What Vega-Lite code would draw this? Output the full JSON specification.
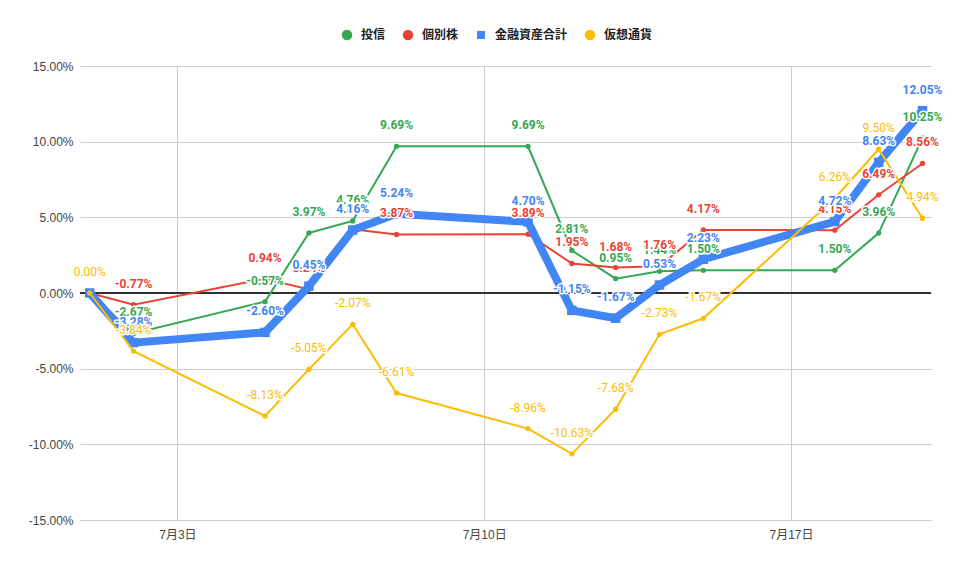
{
  "$schema": "https://vega.github.io/schema/vega-lite/v6.json",
  "autosize": "none",
  "width": 851,
  "height": 454,
  "padding": {"left": 80, "top": 66, "right": 29, "bottom": 49},
  "background": "white",
  "data": {
    "values": [
      {"s": "投信", "d": "2021/07/01", "v": 0},
      {"s": "投信", "d": "2021/07/02", "v": -0.0267},
      {"s": "投信", "d": "2021/07/05", "v": -0.0057},
      {"s": "投信", "d": "2021/07/06", "v": 0.0397},
      {"s": "投信", "d": "2021/07/07", "v": 0.0476},
      {"s": "投信", "d": "2021/07/08", "v": 0.0969},
      {"s": "投信", "d": "2021/07/11", "v": 0.0969},
      {"s": "投信", "d": "2021/07/12", "v": 0.0281},
      {"s": "投信", "d": "2021/07/13", "v": 0.0095},
      {"s": "投信", "d": "2021/07/14", "v": 0.0144},
      {"s": "投信", "d": "2021/07/15", "v": 0.0150},
      {"s": "投信", "d": "2021/07/18", "v": 0.0150},
      {"s": "投信", "d": "2021/07/19", "v": 0.0396},
      {"s": "投信", "d": "2021/07/20", "v": 0.1025},
      {"s": "個別株", "d": "2021/07/01", "v": 0},
      {"s": "個別株", "d": "2021/07/02", "v": -0.0077},
      {"s": "個別株", "d": "2021/07/05", "v": 0.0094},
      {"s": "個別株", "d": "2021/07/06", "v": 0.0024},
      {"s": "個別株", "d": "2021/07/07", "v": 0.0421},
      {"s": "個別株", "d": "2021/07/08", "v": 0.0387},
      {"s": "個別株", "d": "2021/07/11", "v": 0.0389},
      {"s": "個別株", "d": "2021/07/12", "v": 0.0195},
      {"s": "個別株", "d": "2021/07/13", "v": 0.0168},
      {"s": "個別株", "d": "2021/07/14", "v": 0.0176},
      {"s": "個別株", "d": "2021/07/15", "v": 0.0417},
      {"s": "個別株", "d": "2021/07/18", "v": 0.0415},
      {"s": "個別株", "d": "2021/07/19", "v": 0.0649},
      {"s": "個別株", "d": "2021/07/20", "v": 0.0856},
      {"s": "金融資産合計", "d": "2021/07/01", "v": 0},
      {"s": "金融資産合計", "d": "2021/07/02", "v": -0.0328},
      {"s": "金融資産合計", "d": "2021/07/05", "v": -0.0260},
      {"s": "金融資産合計", "d": "2021/07/06", "v": 0.0045},
      {"s": "金融資産合計", "d": "2021/07/07", "v": 0.0416},
      {"s": "金融資産合計", "d": "2021/07/08", "v": 0.0524},
      {"s": "金融資産合計", "d": "2021/07/11", "v": 0.0470},
      {"s": "金融資産合計", "d": "2021/07/12", "v": -0.0115},
      {"s": "金融資産合計", "d": "2021/07/13", "v": -0.0167},
      {"s": "金融資産合計", "d": "2021/07/14", "v": 0.0053},
      {"s": "金融資産合計", "d": "2021/07/15", "v": 0.0223},
      {"s": "金融資産合計", "d": "2021/07/18", "v": 0.0472},
      {"s": "金融資産合計", "d": "2021/07/19", "v": 0.0863},
      {"s": "金融資産合計", "d": "2021/07/20", "v": 0.1205},
      {"s": "仮想通貨", "d": "2021/07/01", "v": 0},
      {"s": "仮想通貨", "d": "2021/07/02", "v": -0.0384},
      {"s": "仮想通貨", "d": "2021/07/05", "v": -0.0813},
      {"s": "仮想通貨", "d": "2021/07/06", "v": -0.0505},
      {"s": "仮想通貨", "d": "2021/07/07", "v": -0.0207},
      {"s": "仮想通貨", "d": "2021/07/08", "v": -0.0661},
      {"s": "仮想通貨", "d": "2021/07/11", "v": -0.0896},
      {"s": "仮想通貨", "d": "2021/07/12", "v": -0.1063},
      {"s": "仮想通貨", "d": "2021/07/13", "v": -0.0768},
      {"s": "仮想通貨", "d": "2021/07/14", "v": -0.0273},
      {"s": "仮想通貨", "d": "2021/07/15", "v": -0.0167},
      {"s": "仮想通貨", "d": "2021/07/18", "v": 0.0626},
      {"s": "仮想通貨", "d": "2021/07/19", "v": 0.0950},
      {"s": "仮想通貨", "d": "2021/07/20", "v": 0.0494}
    ]
  },
  "transform": [
    {"calculate": "replace(format(datum.v, '.2%'), '\u2212', '-')", "as": "lbl"}
  ],
  "encoding": {
    "x": {
      "field": "d",
      "type": "temporal",
      "scale": {
        "domain": [
          {"year": 2021, "month": 6, "date": 30, "hours": 18, "minutes": 40},
          {"year": 2021, "month": 7, "date": 20, "hours": 4, "minutes": 40}
        ]
      },
      "axis": {
        "title": null,
        "values": [
          {"year": 2021, "month": 7, "date": 3},
          {"year": 2021, "month": 7, "date": 10},
          {"year": 2021, "month": 7, "date": 17}
        ],
        "labelExpr": "(month(datum.value) + 1) + '月' + date(datum.value) + '日'",
        "labelPadding": 9
      }
    },
    "y": {
      "field": "v",
      "type": "quantitative",
      "scale": {"domain": [-0.15, 0.15], "nice": false},
      "axis": {
        "title": null,
        "values": [-0.15, -0.1, -0.05, 0, 0.05, 0.1, 0.15],
        "labelExpr": "replace(format(datum.value, '.2%'), '\u2212', '-')",
        "labelPadding": 7
      }
    },
    "color": {
      "field": "s",
      "type": "nominal",
      "scale": {
        "domain": ["投信", "個別株", "金融資産合計", "仮想通貨"],
        "range": ["#34a853", "#ea4335", "#4285f4", "#fbbc04"]
      },
      "legend": {
        "orient": "none",
        "legendX": 261,
        "legendY": -37,
        "direction": "horizontal",
        "title": null,
        "symbolSize": 110,
        "labelFont": "Noto Sans CJK JP",
        "labelFontSize": 12,
        "labelFontWeight": "bold",
        "labelColor": "#222222",
        "columnPadding": 16,
        "labelOffset": 8,
        "encode": {
          "symbols": {
            "update": {
              "shape": {"signal": "datum.value === '金融資産合計' ? 'square' : 'circle'"},
              "size": {"signal": "datum.value === '金融資産合計' ? 64 : 110"},
              "fill": {"scale": "color", "field": "value"},
              "fillOpacity": {"value": 1},
              "strokeWidth": {"value": 0}
            }
          }
        }
      }
    }
  },
  "layer": [
    {
      "mark": {"type": "rule", "color": "#333333", "strokeWidth": 1},
      "encoding": {"y": {"datum": 0}, "x": {"value": 0}, "x2": {"value": 851}, "color": {"value": "#333333"}}
    },
    {
      "transform": [{"filter": "datum.s === '投信' || datum.s === '個別株'"}],
      "mark": {"type": "line", "strokeWidth": 2, "point": {"filled": true, "size": 28}}
    },
    {
      "transform": [{"filter": "datum.s === '金融資産合計'"}],
      "mark": {"type": "line", "strokeWidth": 8, "point": {"filled": true, "shape": "square", "size": 90}}
    },
    {
      "transform": [{"filter": "datum.s === '仮想通貨'"}],
      "mark": {"type": "line", "strokeWidth": 2, "point": {"filled": true, "size": 28}}
    },
    {
      "transform": [{"filter": "datum.s === '投信'"}],
      "layer": [
        {
          "mark": {"type": "text", "dy": -17, "baseline": "alphabetic", "font": "Roboto", "fontSize": 12, "fontWeight": "bold", "stroke": "white", "strokeWidth": 3, "strokeJoin": "round"},
          "encoding": {"text": {"field": "lbl"}, "color": {"value": "white"}}
        },
        {
          "mark": {"type": "text", "dy": -17, "baseline": "alphabetic", "font": "Roboto", "fontSize": 12, "fontWeight": "bold"},
          "encoding": {"text": {"field": "lbl"}}
        }
      ]
    },
    {
      "transform": [{"filter": "datum.s === '個別株'"}],
      "layer": [
        {
          "mark": {"type": "text", "dy": -17, "baseline": "alphabetic", "font": "Roboto", "fontSize": 12, "fontWeight": "bold", "stroke": "white", "strokeWidth": 3, "strokeJoin": "round"},
          "encoding": {"text": {"field": "lbl"}, "color": {"value": "white"}}
        },
        {
          "mark": {"type": "text", "dy": -17, "baseline": "alphabetic", "font": "Roboto", "fontSize": 12, "fontWeight": "bold"},
          "encoding": {"text": {"field": "lbl"}}
        }
      ]
    },
    {
      "transform": [{"filter": "datum.s === '金融資産合計'"}],
      "layer": [
        {
          "mark": {"type": "text", "dy": -17, "baseline": "alphabetic", "font": "Roboto", "fontSize": 12, "fontWeight": "bold", "stroke": "white", "strokeWidth": 3, "strokeJoin": "round"},
          "encoding": {"text": {"field": "lbl"}, "color": {"value": "white"}}
        },
        {
          "mark": {"type": "text", "dy": -17, "baseline": "alphabetic", "font": "Roboto", "fontSize": 12, "fontWeight": "bold"},
          "encoding": {"text": {"field": "lbl"}}
        }
      ]
    },
    {
      "transform": [{"filter": "datum.s === '仮想通貨'"}],
      "layer": [
        {
          "mark": {"type": "text", "dy": -17, "baseline": "alphabetic", "font": "Roboto", "fontSize": 12, "fontWeight": "normal", "stroke": "white", "strokeWidth": 3, "strokeJoin": "round"},
          "encoding": {"text": {"field": "lbl"}, "color": {"value": "white"}}
        },
        {
          "mark": {"type": "text", "dy": -17, "baseline": "alphabetic", "font": "Roboto", "fontSize": 12, "fontWeight": "normal"},
          "encoding": {"text": {"field": "lbl"}}
        }
      ]
    }
  ],
  "config": {
    "view": {"stroke": null},
    "axis": {
      "grid": true,
      "gridColor": "#cccccc",
      "domain": false,
      "ticks": false,
      "labelFont": "Liberation Sans, Noto Sans CJK JP",
      "labelFontSize": 12,
      "labelColor": "#444444"
    }
  }
}
